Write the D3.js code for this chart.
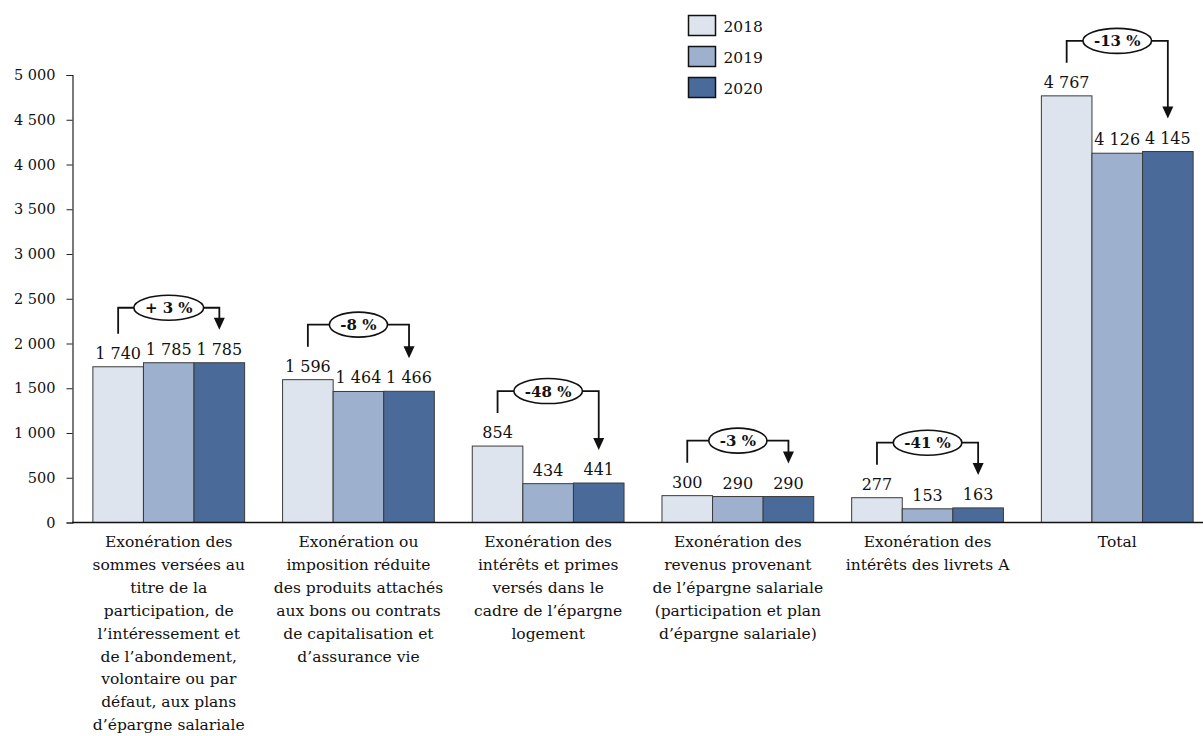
<!DOCTYPE html>
<html>
<head>
<meta charset="utf-8">
<script src="https://cdn.jsdelivr.net/npm/d3@7"></script>
<style>
  html, body { margin: 0; padding: 0; background: #fff; }
  svg text { font-family: "DejaVu Serif", "Liberation Serif", serif; fill: #111; }
</style>
</head>
<body>
<svg id="chart" width="1203" height="736"></svg>
<script>
// Dépenses fiscales en faveur de l'épargne salariale et de l'épargne (M€)
const categories = [
  ["Exonération des", "sommes versées au", "titre de la", "participation, de", "l’intéressement et", "de l’abondement,", "volontaire ou par", "défaut, aux plans", "d’épargne salariale"],
  ["Exonération ou", "imposition réduite", "des produits attachés", "aux bons ou contrats", "de capitalisation et", "d’assurance vie"],
  ["Exonération des", "intérêts et primes", "versés dans le", "cadre de l’épargne", "logement"],
  ["Exonération des", "revenus provenant", "de l’épargne salariale", "(participation et plan", "d’épargne salariale)"],
  ["Exonération des", "intérêts des livrets A"],
  ["Total"]
];
const years = ["2018", "2019", "2020"];
const values2018 = [1740, 1596, 854, 300, 277, 4767];
const values2019 = [1785, 1464, 434, 290, 153, 4126];
const values2020 = [1785, 1466, 441, 290, 163, 4145];
const changes = ["+ 3 %", "-8 %", "-48 %", "-3 %", "-41 %", "-13 %"];
const yTicks = [0, 500, 1000, 1500, 2000, 2500, 3000, 3500, 4000, 4500, 5000];
const colors = ["#dde4ee", "#9db0ce", "#4a6a9a"];

const series = [values2018, values2019, values2020];
const svg = d3.select("#chart");
const fmt = v => d3.format(",")(v).replace(/,/g, " ");

const x = d3.scaleBand().domain(d3.range(categories.length))
  .range([72, 1214]).paddingInner(0.2).paddingOuter(0.11);
const xs = d3.scaleBand().domain(d3.range(years.length)).range([0, x.bandwidth()]);
const y = d3.scaleLinear().domain([0, 5000]).range([522.5, 75]);

// Axe des ordonnées
const yAxis = svg.append("g").attr("transform", "translate(72.5,0)")
  .call(d3.axisLeft(y).tickValues(yTicks).tickSize(6).tickPadding(11).tickFormat(fmt));
yAxis.select(".domain").attr("stroke", "#222").attr("stroke-width", 1.2);
yAxis.selectAll(".tick line").attr("stroke", "#222");
yAxis.selectAll(".tick text").attr("font-size", 14.5).attr("font-family", "DejaVu Serif").attr("fill", "#111");

// Barres
const groups = svg.append("g").selectAll("g").data(categories).join("g")
  .attr("transform", (d, i) => `translate(${x(i)},0)`);
series.forEach((vals, s) => {
  groups.append("rect")
    .attr("x", xs(s)).attr("width", xs.bandwidth())
    .attr("y", (d, i) => y(vals[i])).attr("height", (d, i) => y(0) - y(vals[i]))
    .attr("fill", colors[s]).attr("stroke", "#3a3a3a").attr("stroke-width", 1);
  groups.append("text")
    .attr("x", xs(s) + xs.bandwidth() / 2)
    .attr("y", (d, i) => y(vals[i]) - 8)
    .attr("text-anchor", "middle").attr("font-size", 16)
    .text((d, i) => fmt(vals[i]));
});

// Ligne de base
svg.append("line").attr("x1", 72).attr("x2", 1203).attr("y1", y(0)).attr("y2", y(0))
  .attr("stroke", "#111").attr("stroke-width", 1.5);

// Libellés des catégories
groups.append("text")
  .attr("text-anchor", "middle").attr("font-size", 15.5)
  .each(function(lines) {
    d3.select(this).selectAll("tspan").data(lines).join("tspan")
      .attr("x", x.bandwidth() / 2)
      .attr("y", (l, k) => 547 + k * 22.9)
      .text(l => l);
  });

// Évolution 2018-2020 : crochet, flèche et pastille
groups.each(function(d, i) {
  const g = d3.select(this);
  const xa = xs(0) + xs.bandwidth() / 2;
  const xb = xs(2) + xs.bandwidth() / 2;
  const top = y(Math.max(values2018[i], values2019[i], values2020[i])) - 55;
  const start = y(values2018[i]) - 33;
  const tip = y(values2020[i]) - 33;
  g.append("path")
    .attr("d", `M${xa},${start}V${top}H${xb}V${tip - 11}`)
    .attr("fill", "none").attr("stroke", "#111").attr("stroke-width", 1.8);
  g.append("path")
    .attr("d", `M${xb - 5.5},${tip - 12}L${xb + 5.5},${tip - 12}L${xb},${tip}Z`)
    .attr("fill", "#111");
  const cx = (xa + xb) / 2;
  const ell = g.append("ellipse").attr("cx", cx).attr("cy", top)
    .attr("fill", "#fff").attr("stroke", "#111").attr("stroke-width", 1.6);
  const t = g.append("text").attr("x", cx).attr("y", top + 5.5)
    .attr("text-anchor", "middle").attr("font-size", 15).attr("font-weight", "bold")
    .text(changes[i]);
  const w = t.node().getComputedTextLength();
  ell.attr("rx", w / 2 + 11).attr("ry", 12.5);
});

// Légende
const legend = svg.append("g").selectAll("g").data(years).join("g")
  .attr("transform", (d, k) => `translate(688.5,${15.5 + k * 31})`);
legend.append("rect").attr("width", 27).attr("height", 20)
  .attr("fill", (d, k) => colors[k]).attr("stroke", "#111").attr("stroke-width", 1.5);
legend.append("text").attr("x", 35).attr("y", 16).attr("font-size", 15.5).text(d => d);
</script>
</body>
</html>
